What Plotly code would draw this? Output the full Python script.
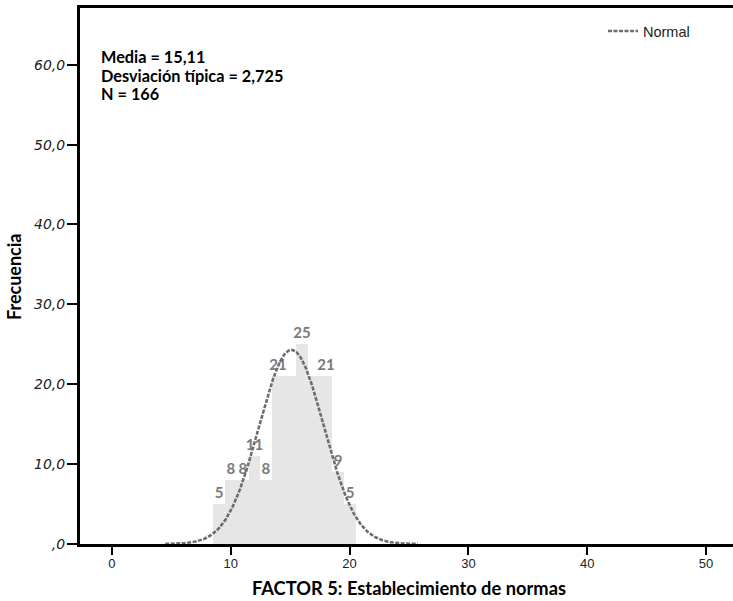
import numpy as np
import plotly.graph_objects as go

# Data
bin_centers = [9, 10, 11, 12, 13, 14, 15, 16, 17, 18, 19, 20]
frequencies = [5, 8, 8, 11, 8, 21, 21, 25, 21, 21, 9, 5]
label_shown = [True, True, True, True, True, True, False, True, False, True, True, True]

mean_val = 15.11
std_val = 2.725
n_val = 166
bin_width = 1.0

stats_lines = ["Media = 15,11", "Desviación típica = 2,725", "N = 166"]

y_tickvals = [0, 10, 20, 30, 40, 50, 60]
y_ticktext = [",0", "10,0", "20,0", "30,0", "40,0", "50,0", "60,0"]
x_tickvals = [0, 10, 20, 30, 40, 50]

x_range = [-2.69, 52.27]
y_range = [0, 67.1]

bar_text = [str(v) if s else "" for v, s in zip(frequencies, label_shown)]

# Normal curve from the reported mean / sd / N (tails merge into the axis)
xs = np.linspace(mean_val - 3.9 * std_val, mean_val + 3.9 * std_val, 400)
ys = n_val * bin_width / (std_val * np.sqrt(2 * np.pi)) * np.exp(-0.5 * ((xs - mean_val) / std_val) ** 2)

fig = go.Figure()
fig.add_trace(go.Bar(
    x=bin_centers, y=frequencies, width=bin_width,
    marker=dict(color="#e6e6e6", line=dict(width=0)),
    text=bar_text, textposition="outside", constraintext="none",
    textfont=dict(family="Lato", size=15, color="#7a7a7a", weight="bold"),
    cliponaxis=False, showlegend=False, hoverinfo="skip",
))
fig.add_trace(go.Scatter(
    x=xs, y=ys, mode="lines", name="Normal",
    line=dict(color="#6e6e6e", width=2.6, dash="4px,1.5px"),
    showlegend=True, cliponaxis=True,
))

W, H = 733, 601
ml, mr, mt, mb = 80, 0, 8, 57
pw, ph = W - ml - mr, H - mt - mb

def px_to_paper_x(px):
    return (px - ml) / pw

def px_to_paper_y(py):
    return (H - mb - py) / ph

stats_y = [56.7, 75.0, 93.3]
annotations = [
    dict(
        text=t, xref="paper", yref="paper", x=px_to_paper_x(99), y=px_to_paper_y(yy),
        xanchor="left", yanchor="middle", align="left", showarrow=False,
        font=dict(family="Lato", size=16.3, color="black", weight="bold"),
    )
    for t, yy in zip(stats_lines, stats_y)
]
annotations += [
    dict(
        text="FACTOR 5: Establecimiento de normas",
        xref="paper", yref="paper", x=px_to_paper_x(409), y=px_to_paper_y(588),
        xanchor="center", yanchor="middle", showarrow=False,
        font=dict(family="Lato", size=18.3, color="black", weight="bold"),
    ),
    dict(
        text="Frecuencia", textangle=-90,
        xref="paper", yref="paper", x=px_to_paper_x(14), y=px_to_paper_y(277),
        xanchor="center", yanchor="middle", showarrow=False,
        font=dict(family="Lato", size=18, color="black", weight="bold"),
    ),
]

fig.update_layout(
    width=W, height=H,
    margin=dict(l=ml, r=mr, t=mt, b=mb, pad=0),
    paper_bgcolor="white", plot_bgcolor="white",
    bargap=0,
    showlegend=True,
    legend=dict(
        x=px_to_paper_x(603), y=px_to_paper_y(15), xanchor="left", yanchor="top",
        bgcolor="rgba(0,0,0,0)", font=dict(family="Liberation Sans", size=14.5, color="#222222"),
        itemwidth=30, tracegroupgap=0,
    ),
    xaxis=dict(
        range=x_range, tickvals=x_tickvals, ticks="outside", ticklen=8, tickwidth=2,
        tickcolor="black", showline=True, linewidth=3, linecolor="black", mirror=True,
        showgrid=False, zeroline=False, ticklabelstandoff=-3,
        tickfont=dict(family="Liberation Sans", size=13, color="#222222"),
    ),
    yaxis=dict(
        range=y_range, tickvals=y_tickvals, ticktext=y_ticktext, ticks="outside",
        ticklen=10, tickwidth=2, tickcolor="black", showline=True, linewidth=3,
        linecolor="black", mirror=False, showgrid=False, zeroline=False,
        ticklabelstandoff=-1,
        tickfont=dict(family="DejaVu Sans", size=14, color="#222222", style="italic"),
    ),
    annotations=annotations,
)

fig.write_html("out.html")
